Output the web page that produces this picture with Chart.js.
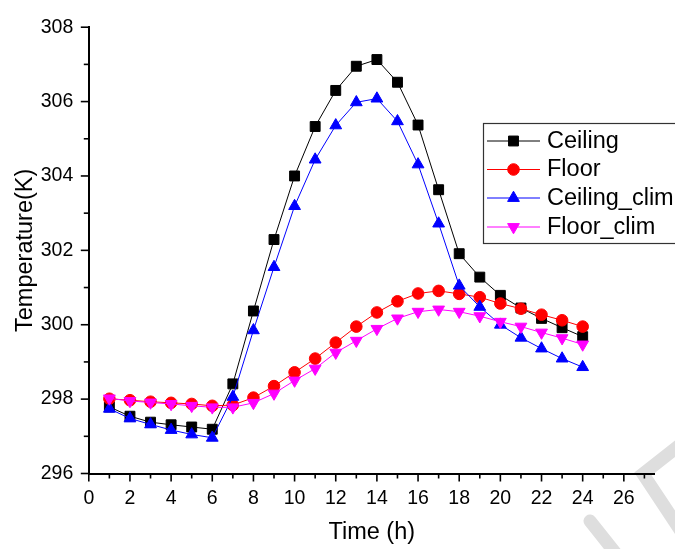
<!DOCTYPE html>
<html>
<head>
<meta charset="utf-8">
<title>Temperature</title>
<script src="https://cdn.jsdelivr.net/npm/chart.js@4.4.1/dist/chart.umd.min.js"></script>
<style>
  html, body { margin: 0; padding: 0; background: #fff; }
  #wrap { width: 675px; height: 549px; }
</style>
</head>
<body>
<div id="wrap"><canvas id="myChart"></canvas></div>
<script>
// hourly temperatures (K)
const hours = [1, 2, 3, 4, 5, 6, 7, 8, 9, 10, 11, 12, 13, 14, 15, 16, 17, 18, 19, 20, 21, 22, 23, 24];
const ceiling = [297.79, 297.54, 297.38, 297.31, 297.25, 297.19, 298.41, 300.37, 302.29, 304.00, 305.33, 306.30,
                 306.95, 307.13, 306.52, 305.37, 303.63, 301.91, 301.28, 300.79, 300.45, 300.17, 299.92, 299.68];
const floor = [298.01, 297.97, 297.93, 297.90, 297.87, 297.82, 297.84, 298.04, 298.35, 298.72, 299.09, 299.52,
               299.95, 300.33, 300.63, 300.84, 300.91, 300.83, 300.74, 300.57, 300.43, 300.27, 300.12, 299.95];
const ceilingClim = [297.74, 297.48, 297.32, 297.17, 297.05, 296.96, 298.06, 299.85, 301.55, 303.19, 304.44, 305.36,
                     305.98, 306.08, 305.47, 304.31, 302.72, 301.05, 300.48, 300.00, 299.65, 299.36, 299.09, 298.86];
const floorClim = [298.02, 297.95, 297.91, 297.87, 297.82, 297.78, 297.78, 297.90, 298.15, 298.50, 298.82, 299.25,
                   299.57, 299.89, 300.17, 300.35, 300.41, 300.35, 300.23, 300.08, 299.95, 299.79, 299.64, 299.47];

const xTicksMax = 27.5;
const yMin = 296, yMax = 308;

const FONT = '"Liberation Sans", Arial, sans-serif';
Chart.defaults.font.family = FONT;
Chart.defaults.color = '#000';

function pts(vals) {
  return hours.map((h, i) => ({ x: h, y: vals[i] }));
}

const series = [
  { label: 'Ceiling', data: ceiling, color: '#000000', style: 'rect', radius: 7, rot: 0, order: 4 },
  { label: 'Floor', data: floor, color: '#ff0000', style: 'circle', radius: 5.8, rot: 0, order: 3 },
  { label: 'Ceiling_clim', data: ceilingClim, color: '#0000ff', style: 'triangle', radius: 6.8, rot: 0, order: 2 },
  { label: 'Floor_clim', data: floorClim, color: '#ff00ff', style: 'triangle', radius: 6.8, rot: 180, order: 1 }
];

// light grey stamp in the lower right corner
const stamp = {
  id: 'stamp',
  beforeDraw(chart) {
    const ctx = chart.ctx;
    ctx.save();
    ctx.strokeStyle = '#dedede';
    ctx.lineWidth = 13;
    ctx.lineCap = 'round';
    ctx.beginPath();
    ctx.moveTo(690, 437);
    ctx.lineTo(643, 474);
    ctx.lineTo(690, 545);
    ctx.stroke();
    ctx.beginPath();
    ctx.moveTo(590, 521);
    ctx.lineTo(625, 565);
    ctx.stroke();
    ctx.restore();
  }
};

// outward major/minor tick marks on both axes
const tickMarks = {
  id: 'tickMarks',
  afterDraw(chart) {
    const ctx = chart.ctx;
    const xs = chart.scales.x, ys = chart.scales.y;
    const area = chart.chartArea;
    ctx.save();
    ctx.strokeStyle = '#000';
    ctx.lineWidth = 1.6;
    xs.ticks.forEach(t => {
      const px = xs.getPixelForValue(t.value);
      const len = t.value % 2 === 0 ? 8 : 5;
      ctx.beginPath();
      ctx.moveTo(px, area.bottom);
      ctx.lineTo(px, area.bottom + len);
      ctx.stroke();
    });
    ys.ticks.forEach(t => {
      const py = ys.getPixelForValue(t.value);
      const len = t.value % 2 === 0 ? 8 : 5;
      ctx.beginPath();
      ctx.moveTo(area.left, py);
      ctx.lineTo(area.left - len, py);
      ctx.stroke();
    });
    ctx.restore();
  }
};

// boxed legend with line + marker samples
const boxLegend = {
  id: 'boxLegend',
  afterDraw(chart) {
    const ctx = chart.ctx;
    const rows = [141, 169.5, 198, 227];
    ctx.save();
    ctx.strokeStyle = '#333';
    ctx.lineWidth = 1.2;
    ctx.strokeRect(483.5, 123.5, 230, 120);
    ctx.font = '23.5px ' + FONT;
    ctx.textBaseline = 'middle';
    ctx.textAlign = 'left';
    series.forEach((s, i) => {
      const y = rows[i];
      ctx.strokeStyle = s.color;
      ctx.lineWidth = 1;
      ctx.beginPath();
      ctx.moveTo(487, y);
      ctx.lineTo(540, y);
      ctx.stroke();
      ctx.fillStyle = s.color;
      ctx.strokeStyle = s.color;
      Chart.helpers.drawPoint(ctx, {
        pointStyle: s.style, radius: s.radius, rotation: s.rot, borderWidth: 1
      }, 513.5, y);
      ctx.fillStyle = '#000';
      ctx.fillText(s.label, 547, y + 0.5);
    });
    ctx.restore();
  }
};

const ctx = document.getElementById('myChart').getContext('2d');

const chart = new Chart(ctx, {
  type: 'line',
  data: {
    datasets: series.map(s => ({
      label: s.label,
      data: pts(s.data),
      borderColor: s.color,
      backgroundColor: s.color,
      borderWidth: 1,
      tension: 0,
      pointStyle: s.style,
      pointRadius: s.radius,
      pointRotation: s.rot,
      pointBorderWidth: 1,
      pointBackgroundColor: s.color,
      pointBorderColor: s.color,
      order: s.order
    }))
  },
  options: {
    responsive: true,
    maintainAspectRatio: false,
    animation: false,
    devicePixelRatio: 1,
    layout: { padding: { left: 0, top: 19, right: 20.3, bottom: 0 } },
    plugins: {
      legend: { display: false },
      tooltip: { enabled: false }
    },
    scales: {
      x: {
        type: 'linear',
        min: 0,
        max: xTicksMax,
        afterFit: scale => { scale.height = 75.5; },
        grid: { display: false, drawTicks: false },
        border: { display: true, color: '#000', width: 2 },
        ticks: {
          stepSize: 1,
          includeBounds: false,
          autoSkip: false,
          maxRotation: 0,
          padding: 13.5,
          font: { size: 19.5 },
          callback: v => (v % 2 === 0 ? v : '')
        },
        title: {
          display: true,
          text: 'Time (h)',
          font: { size: 23.5 },
          padding: { top: 0, bottom: 2 }
        }
      },
      y: {
        min: yMin,
        max: yMax,
        afterFit: scale => { scale.width = 88.8; },
        grid: { display: false, drawTicks: false },
        border: { display: true, color: '#000', width: 2 },
        ticks: {
          stepSize: 1,
          autoSkip: false,
          padding: 15.5,
          font: { size: 19.5 },
          callback: v => (v % 2 === 0 ? v : '')
        },
        title: {
          display: true,
          text: 'Temperature(K)',
          font: { size: 23.5 },
          padding: { top: 11.4, bottom: 0 }
        }
      }
    }
  },
  plugins: [stamp, tickMarks, boxLegend]
});
</script>
</body>
</html>
